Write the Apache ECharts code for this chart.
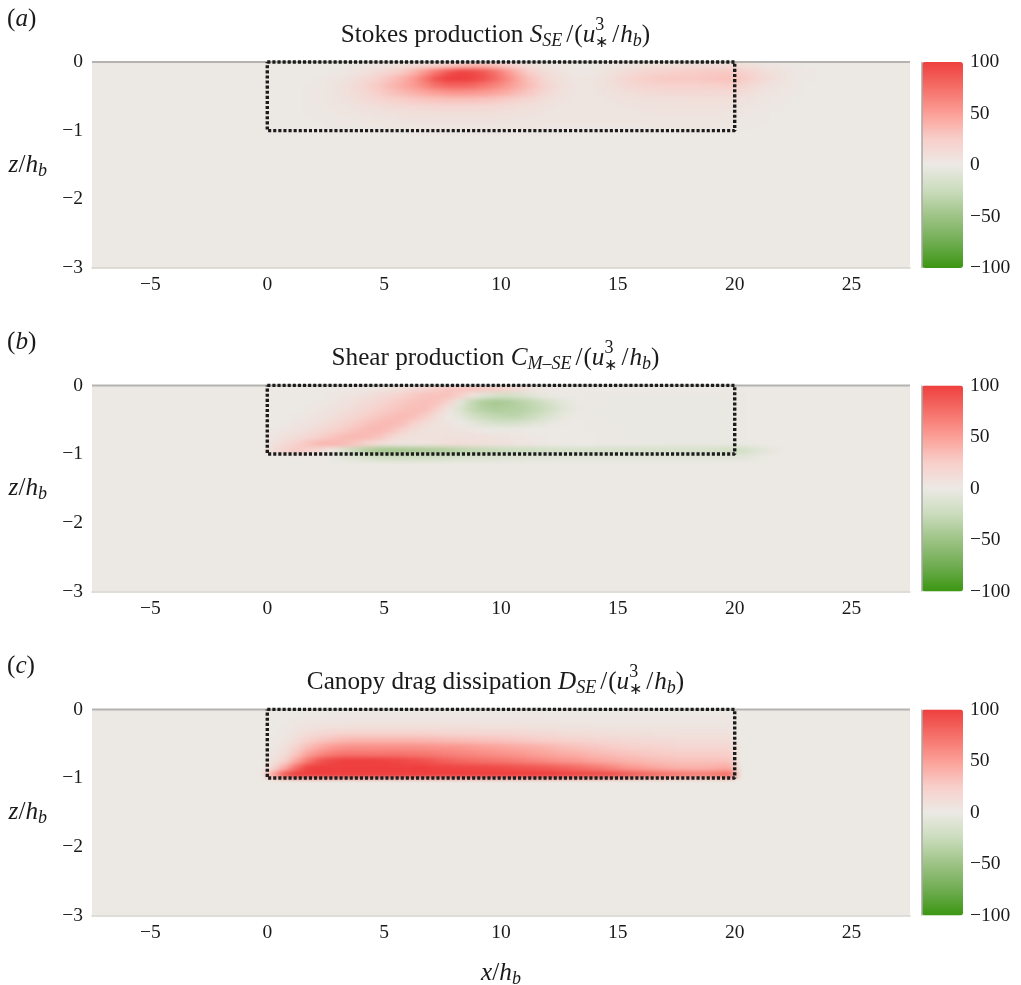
<!DOCTYPE html>
<html><head><meta charset="utf-8">
<style>html,body{margin:0;padding:0;background:#fff}#c{width:1021px;height:985px}</style>
<script src="https://cdn.jsdelivr.net/npm/echarts@6/dist/echarts.min.js"></script>
</head><body>
<svg width="0" height="0" style="position:absolute"><filter id="soft" x="0" y="0" width="100%" height="100%" color-interpolation-filters="sRGB"><feGaussianBlur stdDeviation="4 2"/></filter></svg>
<div id="c"></div>
<script>
// Column centres run x = 0.25, 0.75, ... ; row centres run z = -0.05, -0.15, ...
const stokesRows = [
[0,0,0,0,0,1,1,2,3,5,7,10,13,17,22,28,34,38,38,34,26,18,12,7,4,2,1,1,2,3,5,7,9,10,11,12,13,13,13,13,11,9,6,4,3,2,1,0,0,0],
[0,0,0,1,1,2,3,5,9,14,20,27,38,54,72,88,97,96,88,74,56,38,24,15,8,5,3,3,5,8,12,16,19,22,24,25,26,27,28,28,24,18,12,8,5,3,2,1,0,0],
[0,0,1,1,2,4,6,10,16,23,31,40,52,70,90,100,100,98,90,78,62,46,32,20,12,7,4,4,7,11,17,22,25,27,28,28,28,29,31,32,28,22,15,9,5,3,2,1,0,0],
[0,0,1,2,3,5,8,13,20,28,36,44,52,62,74,80,80,78,72,64,54,44,34,24,14,8,5,5,7,10,14,18,20,21,22,22,22,23,24,25,20,14,9,6,4,2,1,1,0,0],
[0,0,1,2,3,5,8,12,18,25,31,36,41,46,51,54,55,54,52,48,42,35,28,19,12,7,5,5,6,8,10,12,13,14,15,15,15,15,15,15,13,9,6,4,3,2,1,1,0,0],
[0,0,1,2,3,5,7,10,14,18,22,25,28,30,32,33,33,33,31,29,26,21,17,12,8,6,5,5,5,6,7,8,9,9,10,10,10,10,10,10,8,6,4,3,2,1,1,0,0,0],
[0,1,1,2,3,4,5,7,9,11,13,15,16,17,18,18,18,18,17,16,14,12,10,8,6,5,4,4,4,5,6,6,7,7,7,8,8,8,8,7,6,4,3,2,1,1,0,0,0,0],
[0,1,1,2,2,3,4,5,6,7,8,9,10,10,11,11,11,11,11,10,9,8,7,6,5,4,4,4,4,5,5,5,6,6,6,6,6,6,6,5,4,3,2,1,1,1,0,0,0,0],
[0,0,1,1,2,2,3,3,4,5,5,6,7,7,7,7,7,7,7,7,6,6,5,5,4,4,4,4,4,4,4,4,5,5,5,5,5,5,4,4,3,2,2,1,1,0,0,0,0,0],
[0,0,1,1,1,2,2,2,3,3,4,4,4,4,4,4,4,4,4,4,4,4,4,3,3,3,3,3,3,3,3,3,3,4,4,4,4,4,3,3,2,2,1,1,0,0,0,0,0,0],
[0,0,0,0,1,1,1,1,1,1,1,1,2,2,2,2,2,2,2,2,2,2,2,2,2,2,1,1,1,1,1,1,1,1,1,1,1,1,1,1,1,1,0,0,0,0,0,0,0,0]
];
const shearRows = [
[0,0,0,0,1,1,2,2,3,5,7,10,14,19,25,29,30,30,28,26,20,14,8,4,2,1,0,0,0,0,0,0,0,0,0,0,0,0,0,0,0,0,0,0,0,0,0,0,0,0],
[0,0,0,1,1,2,4,6,9,13,17,22,27,31,32,32,24,8,-8,-16,-18,-15,-9,-4,-1,0,0,-1,-1,-1,-1,-1,-1,-1,-1,-1,-1,-1,-1,-1,-1,0,0,0,0,0,0,0,0,0],
[0,0,0,1,2,4,7,10,14,18,23,28,32,33,32,20,-6,-28,-40,-44,-42,-36,-30,-22,-14,-6,-2,-1,-1,-2,-2,-2,-2,-2,-2,-2,-2,-2,-2,-2,-1,0,0,0,0,0,0,0,0,0],
[0,0,1,2,4,6,9,13,18,23,28,32,34,34,24,6,-12,-28,-36,-40,-38,-36,-32,-26,-17,-8,-3,-1,-2,-2,-2,-2,-2,-2,-2,-2,-2,-2,-2,-2,-1,0,0,0,0,0,0,0,0,0],
[0,1,2,4,6,9,13,18,24,29,33,36,34,26,12,2,-6,-18,-26,-30,-32,-32,-26,-18,-10,-4,-1,-1,-2,-2,-2,-2,-2,-2,-2,-2,-2,-2,-2,-2,-1,0,0,0,0,0,0,0,0,0],
[1,2,4,6,10,14,19,25,31,35,37,34,24,13,8,5,1,-6,-12,-16,-18,-16,-12,-7,-3,-1,0,-1,-1,-2,-2,-2,-2,-2,-2,-2,-2,-2,-2,-2,-1,0,0,0,0,0,0,0,0,0],
[2,4,7,10,15,20,26,32,36,38,33,24,14,8,7,7,6,4,1,-1,-2,-1,0,0,0,0,0,-1,-1,-1,-2,-2,-2,-2,-2,-2,-2,-2,-2,-2,-1,0,0,0,0,0,0,0,0,0],
[4,8,12,17,23,30,35,37,36,32,20,12,8,7,8,9,9,9,8,7,6,4,3,2,1,0,0,0,-1,-1,-1,-2,-2,-2,-2,-2,-2,-2,-2,-2,-1,0,0,0,0,0,0,0,0,0],
[8,14,22,30,37,38,36,30,20,12,8,5,5,6,8,10,11,10,9,8,7,5,4,2,1,0,0,0,-1,-1,-1,-1,-2,-2,-3,-3,-3,-3,-3,-3,-2,-1,0,0,0,0,0,0,0,0],
[12,20,28,24,14,2,-12,-26,-38,-44,-46,-46,-44,-42,-40,-38,-34,-31,-28,-26,-24,-22,-22,-20,-18,-17,-16,-16,-16,-16,-16,-16,-16,-16,-16,-16,-16,-16,-18,-20,-20,-14,-8,-3,0,0,0,0,0,0],
[0,0,0,0,-1,-2,-6,-10,-14,-18,-20,-20,-20,-19,-18,-16,-14,-13,-12,-11,-10,-9,-8,-8,-7,-7,-7,-7,-7,-7,-7,-7,-7,-7,-7,-7,-7,-7,-7,-7,-7,-5,-2,0,0,0,0,0,0,0]
];
const dragRows = [
[0,0,0,1,1,1,1,1,1,1,1,1,1,1,1,1,1,1,1,1,1,1,1,1,1,1,1,1,1,1,1,1,1,1,1,1,1,1,1,1],
[0,1,2,3,3,4,4,4,4,4,4,4,4,4,4,4,4,4,4,4,4,4,4,4,3,3,3,3,3,3,3,3,3,3,3,3,3,3,3,3],
[0,2,4,6,7,8,8,9,9,9,9,9,9,9,9,9,9,9,8,8,8,8,7,7,7,6,6,6,5,5,5,5,5,5,5,4,4,4,4,4],
[1,3,7,12,15,18,20,20,20,20,20,20,20,20,20,19,19,18,18,18,17,16,15,14,13,12,11,11,10,10,9,9,9,8,8,8,8,8,8,8],
[2,5,12,22,28,33,36,38,38,38,38,38,38,37,36,35,34,33,32,31,30,28,27,25,24,22,21,19,18,17,16,15,14,13,13,12,12,12,12,12],
[3,8,20,34,44,52,56,58,58,58,58,58,58,57,56,55,54,52,50,48,46,44,42,40,37,34,32,30,28,26,24,22,21,20,19,18,18,18,18,18],
[5,12,30,48,60,68,72,72,72,72,72,72,71,70,68,66,64,62,60,58,56,54,51,48,46,43,41,38,36,34,32,30,28,27,26,25,25,25,25,25],
[8,20,45,70,88,96,100,100,100,100,98,96,94,90,86,82,78,76,74,72,70,67,64,61,58,55,53,49,46,43,40,38,36,34,33,32,32,32,32,32],
[15,42,75,98,100,100,100,100,100,100,100,100,100,100,98,98,96,96,95,94,92,90,88,86,84,80,76,72,68,62,56,52,48,45,42,40,40,40,42,44],
[45,85,100,100,100,100,100,100,100,100,100,100,100,100,100,100,100,100,100,100,100,100,100,100,100,98,96,94,92,90,86,82,78,74,70,68,66,66,70,76]
];
const xTicks = [-5,0,5,10,15,20,25];
const canopyX = [0,20,20,0,0];
const canopyZ = [0,0,-1,-1,0];
const surfaceX = [-7.5,27.5];
const surfaceZ = [0,0];
const barEdgeX = [0,0];
const barEdgeV = [-100,100];
const panelTags = ['a','b','c'];
const titles = [
 '{r|Stokes production }{i|S}{sub|SE}{sl|/}{r|(}{i|u}{sup|3}{star|∗}{sl|/}{i|h}{sub|b}{r|)}',
 '{r|Shear production }{i|C}{sub|M–SE}{sl|/}{r|(}{i|u}{sup|3}{star|∗}{sl|/}{i|h}{sub|b}{r|)}',
 '{r|Canopy drag dissipation }{i|D}{sub|SE}{sl|/}{r|(}{i|u}{sup|3}{star|∗}{sl|/}{i|h}{sub|b}{r|)}'
];
const ramp = ['#3c9612','#70ad52','#9dc385','#cadcbc','#ece9e5','#f8cfca','#fb9f97','#f56f68','#ee3f3e'];
const panelData = [stokesRows, shearRows, dragRows];

const FONT='"Liberation Serif","Times New Roman",serif', INK='#1a1a1a';
const tops=[62,385.4,709.4], H=206, L=92, W=818, BL=922, BW=41;
const PLOT='#ece9e4';
const base={fontFamily:FONT,fontSize:25.2,lineHeight:40,color:INK,fontWeight:'normal'};
const rich={
 r:{...base}, i:{...base,fontStyle:'italic'},
 sl:{...base,padding:[0,1,0,4]},
 sub:{...base,fontSize:18,fontStyle:'italic',padding:[12,0,0,0]},
 sup:{...base,fontSize:18,padding:[0,-9,20,0]},
 star:{...base,fontSize:16,padding:[15,0,0,0]}
};
const num=v=>String(v).replace('-','−');
const xCats=[];for(let i=0;i<70;i++)xCats.push(-7.25+i*0.5);
const zCats=[];for(let i=0;i<30;i++)zCats.push(-2.95+i*0.1);

const grid=[],xAxis=[],yAxis=[],series=[],visualMap=[],title=[];
panelData.forEach((rows,p)=>{
  grid.push({left:L,top:tops[p],width:W,height:H,show:false,outerBoundsMode:'none',containLabel:false});
  xAxis.push({type:'category',gridIndex:p,data:xCats,show:false,zlevel:1});
  xAxis.push({type:'value',gridIndex:p,min:-7.5,max:27.5,position:'bottom',zlevel:1,splitLine:{show:false},
    axisLine:{show:true,onZero:false,lineStyle:{color:'#d6d3cd',width:1.5}},axisTick:{show:false},
    axisLabel:{customValues:xTicks,formatter:num,fontFamily:FONT,fontSize:19.5,color:INK,margin:7},
    ...(p===2?{name:'{i|x}{r|/}{i|h}{sub|b}',nameLocation:'middle',nameGap:38,nameTextStyle:{rich}}:{})});
  yAxis.push({type:'category',gridIndex:p,data:zCats,show:false,zlevel:1});
  yAxis.push({type:'value',gridIndex:p,min:-3,max:0,interval:1,position:'left',zlevel:1,splitLine:{show:false},
    axisLine:{show:false},axisTick:{show:false},
    axisLabel:{formatter:num,fontFamily:FONT,fontSize:19.5,color:INK,margin:9},
    name:'{i|z}{r|/}{i|h}{sub|b}',nameLocation:'middle',nameRotate:0,nameGap:45,nameTextStyle:{rich}});
  const cells=[];
  rows.forEach((row,r)=>row.forEach((v,c)=>cells.push([15+c,29-r,v])));
  series.push({type:'heatmap',xAxisIndex:p*2,yAxisIndex:p*2,data:cells,progressive:0,zlevel:0,silent:true,itemStyle:{borderWidth:0}});
  visualMap.push({type:'continuous',seriesIndex:p,min:-100,max:100,left:BL,top:tops[p],itemWidth:BW,itemHeight:H,padding:0,
    calculable:false,hoverLink:false,zlevel:1,z:1,inRange:{color:ramp},outOfRange:{color:PLOT}});
  title.push({text:titles[p],left:495.5,top:tops[p]-47,zlevel:1,padding:0,textStyle:{rich,fontFamily:FONT,fontSize:25.2,fontWeight:'normal'},textAlign:'center'});
  title.push({text:'{r|(}{i|'+panelTags[p]+'}{r|)}',left:7,top:tops[p]-63,zlevel:1,padding:0,textStyle:{rich,fontFamily:FONT,fontSize:25.2,fontWeight:'normal'}});
});
panelData.forEach((rows,p)=>{
  const xi=p*2+1, yi=p*2+1;
  series.push({type:'line',name:'surface',xAxisIndex:xi,yAxisIndex:yi,data:surfaceX.map((x,i)=>[x,surfaceZ[i]]),symbol:'none',clip:false,zlevel:1,z:2,silent:true,
    lineStyle:{color:'#b4b3b0',width:2}});
  series.push({type:'line',name:'canopy',xAxisIndex:xi,yAxisIndex:yi,data:canopyX.map((x,i)=>[x,canopyZ[i]]),symbol:'none',clip:false,zlevel:1,z:3,silent:true,
    lineStyle:{color:'#1c1c1c',width:3.4,type:[3.1,2]}});
});
// colour-bar scales
panelData.forEach((rows,p)=>{
  const g=grid.length; grid.push({left:BL,top:tops[p],width:BW,height:H,show:false,outerBoundsMode:'none',containLabel:false});
  const xi=xAxis.length, yi=yAxis.length;
  xAxis.push({type:'value',gridIndex:g,min:0,max:1,show:false});
  yAxis.push({type:'value',gridIndex:g,min:-100,max:100,interval:50,position:'right',zlevel:1,z:6,splitLine:{show:false},axisLine:{show:false},
    axisTick:{show:false},
    axisLabel:{formatter:num,fontFamily:FONT,fontSize:19.5,color:INK,margin:7}});
  series.push({type:'line',name:'bar edge',xAxisIndex:xi,yAxisIndex:yi,data:barEdgeX.map((x,i)=>[x,barEdgeV[i]]),symbol:'none',clip:false,zlevel:1,z:6,silent:true,
    lineStyle:{color:'#a8a8a6',width:1.5}});
});

const chart=echarts.init(document.getElementById('c'),null,{renderer:'canvas',width:1021,height:985});
chart.setOption({animation:false,backgroundColor:PLOT,tooltip:{show:false},title,grid,xAxis,yAxis,visualMap,series});
function soften(){
  const cv=document.querySelector('#c canvas');
  if(!cv)return;
  const pts=[];
  tops.forEach(t=>{pts.push([L,t],[L+W,t],[L+W,t+H],[L,t+H]);});
  pts.push([L,tops[0]]);
  cv.style.filter='url(#soft)';
  cv.style.clipPath='polygon('+pts.map(q=>q[0]+'px '+q[1]+'px').join(',')+')';
}
soften();
chart.on('finished',soften);
</script>
</body></html>
